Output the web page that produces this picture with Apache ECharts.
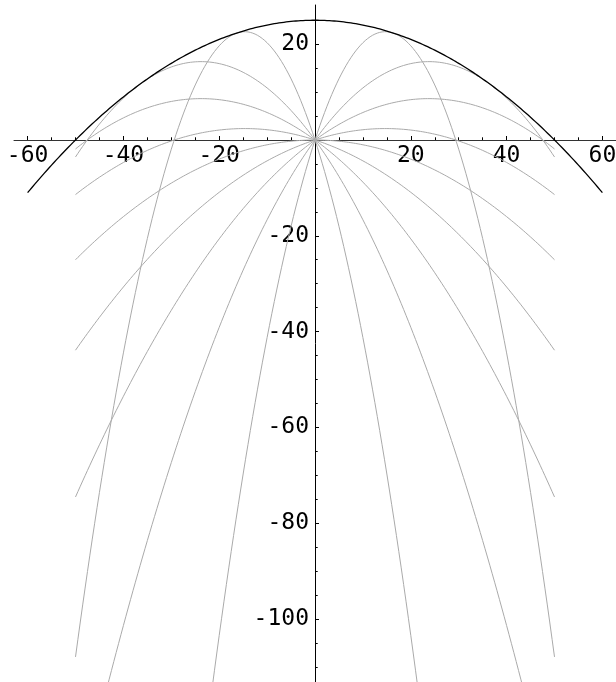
<!DOCTYPE html>
<html>
<head>
<meta charset="utf-8">
<script src="https://cdn.jsdelivr.net/npm/echarts@6/dist/echarts.min.js"></script>
<style>
  html, body { margin: 0; padding: 0; background: #ffffff; }
  #chart { width: 616px; height: 682px; }
</style>
</head>
<body>
<div id="chart"></div>
<script>
// Projectile trajectories launched from the origin at a common speed,
// with the bounding "safety" parabola that every trajectory touches.
const launchAnglesDeg = [-72, -54, -36, -18, 0, 18, 36, 54, 72];
const maxHeight = 25;               // v^2 / (2g): apex of a vertical shot
const trajectorySpan = [-50, 50];   // horizontal extent of each trajectory
const envelopeSpan = [-60, 60];     // horizontal extent of the envelope
const xMajorTicks = [-60, -40, -20, 20, 40, 60];
const yMajorTicks = [20, -20, -40, -60, -80, -100];
const xMinorTicks = [-55, -50, -45, -35, -30, -25, -15, -10, -5, 5, 10, 15, 25, 30, 35, 45, 50, 55];
const yMinorTicks = [25, 15, 10, 5, -5, -10, -15, -25, -30, -35, -45, -50, -55, -65, -70, -75, -85, -90, -95, -105, -110];

// Plot geometry (equal scale on both axes, origin inside the plot)
const W = 616, H = 682;
const PX_PER_UNIT = 4.79;
const ORIGIN = [315, 140];          // pixel position of (0, 0)
const PLOT_LEFT = 14, PLOT_TOP = 5;
const xView = [-(ORIGIN[0] - PLOT_LEFT) / PX_PER_UNIT, (W - ORIGIN[0]) / PX_PER_UNIT];
const yView = [-(H - ORIGIN[1]) / PX_PER_UNIT, (ORIGIN[1] - PLOT_TOP) / PX_PER_UNIT];

const STEP = 0.5;

function trajectory(angleDeg) {
  const th = angleDeg * Math.PI / 180;
  const t = Math.tan(th);
  const c2 = Math.cos(th) * Math.cos(th);
  const pts = [];
  for (let x = trajectorySpan[0]; x <= trajectorySpan[1] + 1e-9; x += STEP) {
    pts.push([x, x * t - x * x / (4 * maxHeight * c2)]);
  }
  return pts;
}

function envelope() {
  const pts = [];
  for (let x = envelopeSpan[0]; x <= envelopeSpan[1] + 1e-9; x += STEP) {
    pts.push([x, maxHeight - x * x / (4 * maxHeight)]);
  }
  return pts;
}

const labelFont = { fontFamily: 'DejaVu Sans Mono', fontSize: 23, color: '#000' };
const hidden = { show: false };

const series = launchAnglesDeg.map(a => ({
  type: 'line',
  xAxisIndex: 0, yAxisIndex: 0,
  data: trajectory(a),
  showSymbol: false,
  silent: true,
  lineStyle: { color: '#aaaaaa', width: 1 },
  z: 2
}));
series.push({
  type: 'line',
  xAxisIndex: 0, yAxisIndex: 0,
  data: envelope(),
  showSymbol: false,
  silent: true,
  lineStyle: { color: '#000000', width: 1.3 },
  z: 3
});

function plainAxis(gridIndex, range, position) {
  return {
    type: 'value', gridIndex, min: range[0], max: range[1], position,
    axisLine: hidden, axisTick: hidden, axisLabel: hidden, splitLine: hidden
  };
}

const chart = echarts.init(document.getElementById('chart'));
chart.setOption({
  animation: false,
  backgroundColor: '#ffffff',
  grid: [
    // 0: the plotting area
    { left: PLOT_LEFT, right: 0, top: PLOT_TOP, bottom: 0, outerBoundsMode: 'none', containLabel: false },
    // 1: strip whose bottom edge is the horizontal axis (y = 0)
    { left: PLOT_LEFT, right: 0, top: PLOT_TOP, height: ORIGIN[1] - PLOT_TOP, outerBoundsMode: 'none', containLabel: false },
    // 2: strip whose left edge is the vertical axis (x = 0)
    { left: ORIGIN[0], right: 0, top: PLOT_TOP, bottom: 0, outerBoundsMode: 'none', containLabel: false }
  ],
  xAxis: [
    plainAxis(0, xView, 'bottom'),
    {
      type: 'value', gridIndex: 1, min: xView[0], max: xView[1], position: 'bottom',
      axisLine: { show: true, onZero: false, lineStyle: { color: '#333', width: 1 } },
      axisTick: { show: true, inside: true, length: 4, customValues: xMajorTicks, lineStyle: { color: '#000' } },
      axisLabel: { show: true, customValues: xMajorTicks, margin: 5, ...labelFont },
      splitLine: hidden
    },
    {
      type: 'value', gridIndex: 1, min: xView[0], max: xView[1], position: 'bottom',
      axisLine: { show: false, onZero: false },
      axisTick: { show: true, inside: true, length: 2.7, customValues: xMinorTicks, lineStyle: { color: '#000' } },
      axisLabel: hidden,
      splitLine: hidden
    },
    plainAxis(2, [0, xView[1]], 'bottom')
  ],
  yAxis: [
    plainAxis(0, yView, 'left'),
    plainAxis(1, [0, yView[1]], 'left'),
    {
      type: 'value', gridIndex: 2, min: yView[0], max: yView[1], position: 'left',
      axisLine: { show: true, onZero: false, lineStyle: { color: '#000', width: 1 } },
      axisTick: { show: true, inside: true, length: 4, customValues: yMajorTicks, lineStyle: { color: '#000' } },
      axisLabel: { show: true, customValues: yMajorTicks, margin: 6, ...labelFont },
      splitLine: hidden
    },
    {
      type: 'value', gridIndex: 2, min: yView[0], max: yView[1], position: 'left',
      axisLine: { show: false, onZero: false },
      axisTick: { show: true, inside: true, length: 2.7, customValues: yMinorTicks, lineStyle: { color: '#000' } },
      axisLabel: hidden,
      splitLine: hidden
    }
  ],
  series: series
});
</script>
</body>
</html>
